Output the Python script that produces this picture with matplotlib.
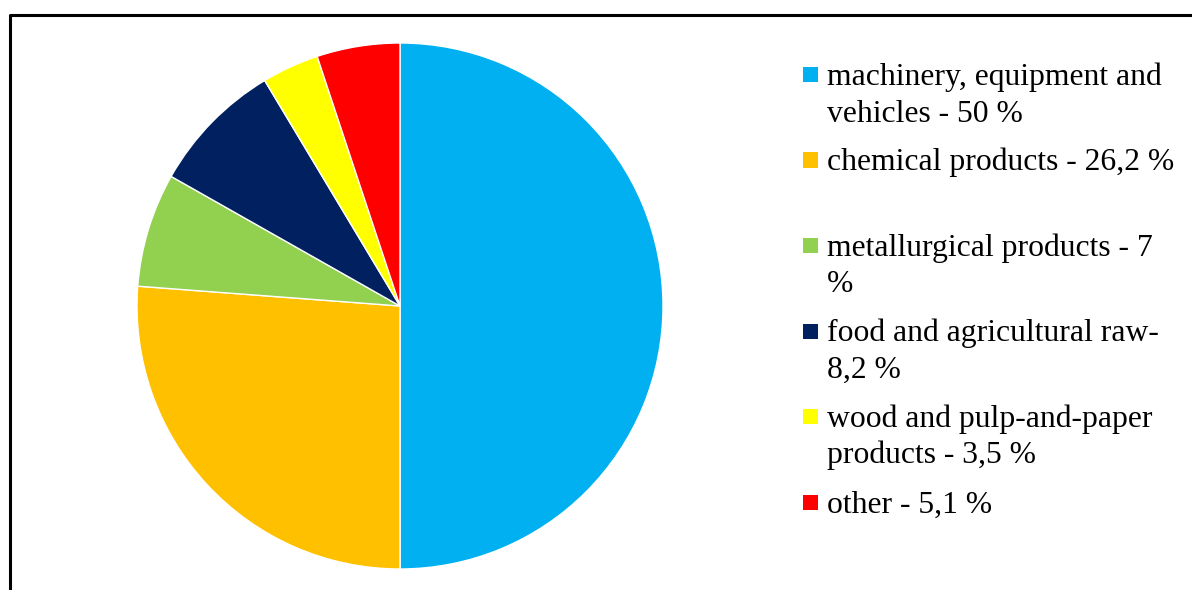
import matplotlib
matplotlib.use("Agg")
import matplotlib.pyplot as plt
from matplotlib.patches import Rectangle
from matplotlib.lines import Line2D

# export structure (%)
categories = ["machinery, equipment and\nvehicles - 50 %",
              "chemical products - 26,2 %",
              "metallurgical products - 7\n%",
              "food and agricultural raw-\n8,2 %",
              "wood and pulp-and-paper\nproducts - 3,5 %",
              "other - 5,1 %"]
shares = [50, 26.2, 7, 8.2, 3.5, 5.1]
colors = ["#00B0F0", "#FFC000", "#92D050", "#002060", "#FFFF00", "#FF0000"]

W, H = 1192, 590
fig = plt.figure(figsize=(W / 100, H / 100), dpi=100)

# pie: centre (400, 306) px, radius 263 px
cx, cy, r = 400, 306, 263
ax = fig.add_axes([(cx - r) / W, (H - cy - r) / H, 2 * r / W, 2 * r / H])
ax.pie(shares, colors=colors, startangle=90, counterclock=False,
       wedgeprops=dict(edgecolor="white", linewidth=1))
ax.set_xlim(-1, 1)
ax.set_ylim(-1, 1)
ax.set_aspect("equal")

# chart frame
fig.add_artist(Line2D([10 / W, 10 / W, 1.0], [0, 1 - 15 / H, 1 - 15 / H],
                      color="black", linewidth=2.2, transform=fig.transFigure))

# legend drawn by hand
base0 = 85
step = 85.5
line_h = 36.5
for i, (lab, col) in enumerate(zip(categories, colors)):
    y = base0 + i * step
    fig.add_artist(Rectangle((803 / W, 1 - (y - 3) / H), 15 / W, 15 / H,
                             facecolor=col, edgecolor="none",
                             transform=fig.transFigure))
    for j, line in enumerate(lab.split("\n")):
        fig.text(827 / W, 1 - (y + j * line_h) / H, line,
                 fontsize=22.8, family="Liberation Serif", va="baseline",
                 ha="left", color="black")

fig.savefig("out.png", dpi=100)
